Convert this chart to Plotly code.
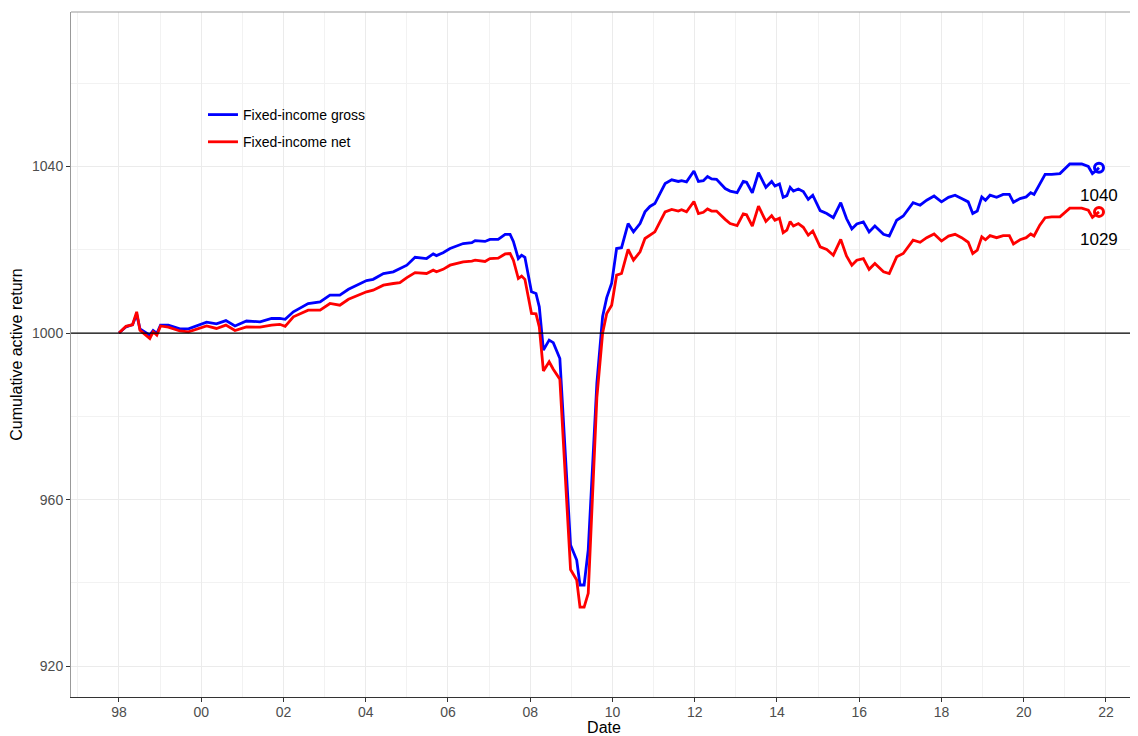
import plotly.graph_objects as go

# decimal-year dates
dates = [
    1998.00, 1998.17, 1998.33, 1998.43, 1998.51, 1998.75, 1998.83, 1998.92, 1999.01, 1999.20,
    1999.48, 1999.69, 2000.13, 2000.37, 2000.60, 2000.82, 2001.10, 2001.43, 2001.71, 2001.91,
    2002.04, 2002.24, 2002.60, 2002.89, 2003.13, 2003.37, 2003.58, 2004.02, 2004.18, 2004.43,
    2004.67, 2004.83, 2005.00, 2005.20, 2005.48, 2005.64, 2005.72, 2005.88, 2006.05, 2006.37,
    2006.58, 2006.66, 2006.90, 2007.02, 2007.22, 2007.39, 2007.51, 2007.59, 2007.71, 2007.79,
    2007.87, 2008.03, 2008.14, 2008.22, 2008.32, 2008.46, 2008.56, 2008.72, 2008.98, 2009.13,
    2009.21, 2009.31, 2009.41, 2009.62, 2009.76, 2009.86, 2009.98, 2010.10, 2010.22, 2010.38,
    2010.51, 2010.67, 2010.79, 2010.91, 2011.03, 2011.16, 2011.28, 2011.44, 2011.60, 2011.68,
    2011.80, 2011.98, 2012.09, 2012.21, 2012.31, 2012.41, 2012.53, 2012.74, 2012.86, 2013.03,
    2013.18, 2013.26, 2013.40, 2013.55, 2013.73, 2013.87, 2013.95, 2014.06, 2014.15, 2014.24,
    2014.32, 2014.40, 2014.52, 2014.64, 2014.76, 2014.87, 2015.05, 2015.21, 2015.37, 2015.55,
    2015.69, 2015.82, 2015.94, 2016.10, 2016.24, 2016.38, 2016.59, 2016.73, 2016.91, 2017.07,
    2017.31, 2017.48, 2017.64, 2017.82, 2018.00, 2018.17, 2018.33, 2018.49, 2018.65, 2018.76,
    2018.87, 2018.98, 2019.07, 2019.18, 2019.34, 2019.50, 2019.65, 2019.75, 2019.91, 2020.06,
    2020.17, 2020.25, 2020.39, 2020.52, 2020.68, 2020.88, 2021.12, 2021.41, 2021.57, 2021.67,
    2021.75, 2021.83,
]

gross = [
    1000.0, 1001.5, 1002.0, 1004.5, 1001.0, 999.5, 1000.6, 999.9, 1001.9, 1001.9,
    1001.0, 1001.0, 1002.6, 1002.2, 1003.0, 1001.7, 1002.9, 1002.7, 1003.5, 1003.5,
    1003.3, 1005.1, 1007.1, 1007.5, 1009.1, 1009.1, 1010.5, 1012.6, 1012.9, 1014.3,
    1014.7, 1015.5, 1016.3, 1018.2, 1017.9, 1019.0, 1018.6, 1019.3, 1020.3, 1021.5,
    1021.7, 1022.2, 1022.0, 1022.5, 1022.5, 1023.7, 1023.7, 1022.0, 1017.9, 1018.7,
    1018.2, 1009.9, 1009.5, 1006.3, 995.9, 998.3, 997.7, 993.9, 949.1, 945.5,
    939.5, 939.5, 947.9, 987.9, 1004.0, 1008.5, 1012.0, 1020.3, 1020.5, 1026.3,
    1024.3, 1026.3, 1029.1, 1030.4, 1031.1, 1033.6, 1035.9, 1036.8, 1036.4, 1036.6,
    1036.3, 1038.9, 1036.4, 1036.6, 1037.6, 1037.0, 1036.9, 1034.7, 1034.1, 1033.7,
    1036.4, 1036.2, 1033.7, 1038.5, 1035.0, 1036.4, 1035.3, 1035.8, 1032.6, 1033.0,
    1035.0, 1034.1, 1034.6, 1034.0, 1032.1, 1033.1, 1029.4, 1028.7, 1027.7, 1031.3,
    1027.5, 1025.0, 1026.2, 1026.7, 1024.3, 1025.7, 1023.7, 1023.3, 1027.1, 1028.1,
    1031.3, 1030.7, 1031.9, 1032.9, 1031.5, 1032.6, 1033.1, 1032.3, 1031.5, 1028.7,
    1029.3, 1032.7, 1031.9, 1033.1, 1032.6, 1033.3, 1033.3, 1031.4, 1032.3, 1032.7,
    1033.7, 1033.3, 1035.9, 1038.1, 1038.1, 1038.3, 1040.6, 1040.6, 1040.0, 1038.3,
    1038.9, 1039.7,
]

net = [
    1000.0, 1001.6, 1002.0, 1005.1, 1000.7, 998.7, 1000.3, 999.5, 1001.7, 1001.4,
    1000.5, 1000.3, 1001.7, 1001.1, 1001.9, 1000.6, 1001.5, 1001.4, 1001.9, 1002.1,
    1001.6, 1003.9, 1005.5, 1005.5, 1007.1, 1006.7, 1008.1, 1009.9, 1010.3, 1011.5,
    1011.9, 1012.1, 1013.3, 1014.5, 1014.3, 1015.1, 1014.7, 1015.3, 1016.3, 1017.1,
    1017.3, 1017.5, 1017.2, 1017.9, 1018.0, 1019.0, 1019.1, 1017.5, 1013.1, 1013.7,
    1012.9, 1004.7, 1004.6, 1001.5, 990.9, 993.1, 991.3, 988.9, 943.2, 940.7,
    934.2, 934.2, 937.5, 984.5, 1000.0, 1004.7, 1006.7, 1013.9, 1014.3, 1020.1,
    1017.5, 1019.5, 1022.7, 1023.5, 1024.3, 1026.8, 1029.1, 1029.7, 1029.3, 1029.6,
    1029.1, 1031.6, 1028.7, 1029.0, 1029.8, 1029.3, 1029.3, 1027.3, 1026.3, 1025.8,
    1028.6, 1028.4, 1025.7, 1030.5, 1026.8, 1028.2, 1027.1, 1027.6, 1024.1, 1024.7,
    1026.8, 1025.7, 1026.3, 1025.4, 1023.5, 1024.5, 1020.7, 1020.1, 1018.7, 1022.5,
    1018.5, 1016.3, 1017.5, 1017.9, 1015.3, 1016.7, 1014.7, 1014.3, 1018.3, 1019.1,
    1022.3, 1021.8, 1022.9, 1023.8, 1022.1, 1023.3, 1023.7, 1022.9, 1021.8, 1019.1,
    1019.9, 1023.1, 1022.4, 1023.4, 1022.9, 1023.4, 1023.4, 1021.4, 1022.4, 1022.9,
    1023.8, 1023.3, 1025.9, 1027.7, 1027.9, 1027.9, 1030.0, 1030.0, 1029.5, 1027.8,
    1028.4, 1029.1,
]

series_names = ["Fixed-income gross", "Fixed-income net"]
series_colors = ["#0000FF", "#FF0000"]
end_labels = ["1040", "1029"]

x_tickvals = [1998, 2000, 2002, 2004, 2006, 2008, 2010, 2012, 2014, 2016, 2018, 2020, 2022]
x_ticktext = ["98", "00", "02", "04", "06", "08", "10", "12", "14", "16", "18", "20", "22"]
y_tickvals = [920, 960, 1000, 1040]

FONT = "Liberation Sans, Arial, sans-serif"

fig = go.Figure()

for name, vals, col in zip(series_names, [gross, net], series_colors):
    fig.add_trace(go.Scatter(
        x=dates, y=vals, mode="lines", name=name,
        line=dict(color=col, width=2.8), legendgroup=name,
    ))

for vals, col, lab in zip([gross, net], series_colors, end_labels):
    fig.add_trace(go.Scatter(
        x=[dates[-1]], y=[vals[-1]], mode="markers", showlegend=False,
        marker=dict(symbol="circle-open", size=9, color=col, line=dict(width=3, color=col)),
        hoverinfo="skip",
    ))
    fig.add_annotation(x=dates[-1], y=vals[-1], text=lab, showarrow=False,
                       yshift=-28, font=dict(size=17, color="black", family=FONT))

fig.add_hline(y=1000, line=dict(color="black", width=1.3))

# white legend background (covers gridlines)
fig.add_shape(type="rect", xref="paper", yref="paper",
              x0=(198 - 71) / 1066, x1=(374 - 71) / 1066,
              y0=1 - (163 - 12) / 685, y1=1 - (65 - 12) / 685,
              fillcolor="white", line=dict(width=0), layer="between")
# top border
fig.add_shape(type="line", xref="paper", yref="paper", x0=0, x1=1, y0=1, y1=1,
              line=dict(color="#999999", width=1))

# page body adds an 8px offset; figure is sized to fill the rest of the window
fig.update_layout(
    width=1130, height=728,
    margin=dict(l=63, r=1, t=4, b=39),
    paper_bgcolor="white", plot_bgcolor="white",
    font=dict(family=FONT, color="#4d4d4d", size=14),
    showlegend=True,
    legend=dict(x=0.1238, y=0.873, xanchor="left", yanchor="top",
                bgcolor="rgba(0,0,0,0)", borderwidth=0,
                font=dict(size=14, color="black", family=FONT),
                traceorder="grouped", tracegroupgap=6),
    xaxis=dict(
        range=[1996.833, 2022.754], tickvals=x_tickvals, ticktext=x_ticktext,
        automargin=False,
        showgrid=True, gridcolor="#ebebeb", gridwidth=1.1,
        minor=dict(dtick=1, tick0=1997, showgrid=True, gridcolor="#f2f2f2", gridwidth=0.6),
        ticks="outside", ticklen=4, tickcolor="#333333", tickwidth=1,
        ticklabelstandoff=-2,
        showline=True, linecolor="#333333", linewidth=1,
        zeroline=False,
        tickfont=dict(size=14, color="#4d4d4d", family=FONT),
        title=dict(text="Date", font=dict(size=16, color="black", family=FONT), standoff=5),
    ),
    yaxis=dict(
        range=[912.6, 1077.1], tickvals=y_tickvals,
        automargin=False,
        showgrid=True, gridcolor="#ebebeb", gridwidth=1.1,
        minor=dict(dtick=20, tick0=900, showgrid=True, gridcolor="#f2f2f2", gridwidth=0.6),
        ticks="outside", ticklen=4, tickcolor="#333333", tickwidth=1,
        showline=True, linecolor="#999999", linewidth=1, mirror=True,
        zeroline=False,
        tickfont=dict(size=14, color="#4d4d4d", family=FONT),
        title=dict(text="Cumulative active return", font=dict(size=16, color="black", family=FONT), standoff=12),
    ),
)

fig.write_html("out.html")
